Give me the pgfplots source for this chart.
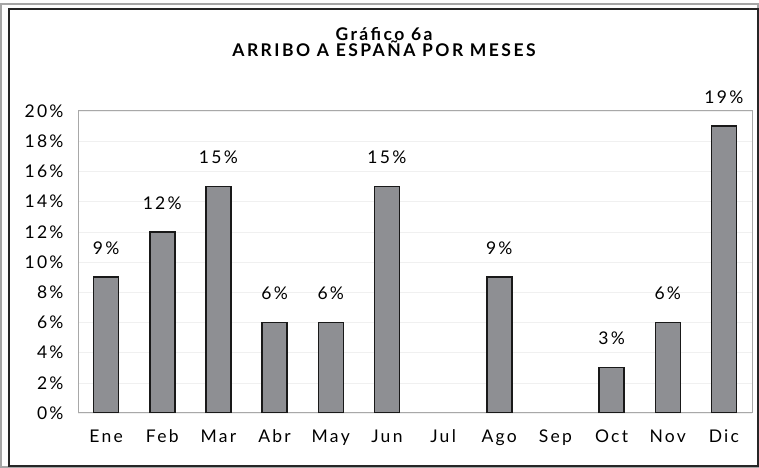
\documentclass[border=0pt]{standalone}
\usepackage{fontspec}
\setmainfont{Lato}
\usepackage{pgfplots}
\pgfplotsset{compat=1.18}
\definecolor{barfill}{HTML}{8E8F93}
\definecolor{axisgray}{HTML}{A8A8A8}
\newcommand{\lblfont}{\fontsize{17.5bp}{19bp}\selectfont\addfontfeatures{LetterSpace=13}}
\begin{document}
\begin{tikzpicture}[x=1bp,y=1bp]
\path[use as bounding box] (0,0) rectangle (759,468);
\draw[gray!70, line width=1.2bp] (1,1) rectangle (758,464);
\draw[black!85, line width=1.2bp] (9,2) rectangle (758,459);
\node[font=\bfseries\fontsize{17.5bp}{17bp}\selectfont\addfontfeatures{LetterSpace=14}, anchor=base] at (384,427) {Gráfico 6a};
\node[font=\bfseries\fontsize{17.5bp}{17bp}\selectfont\addfontfeatures{LetterSpace=14}, anchor=base] at (384,411) {ARRIBO A ESPAÑA POR MESES};
\begin{axis}[
  at={(78bp,55bp)}, anchor=south west,
  scale only axis, width=674bp, height=302bp,
  xmin=-0.5, xmax=11.5, ymin=0, ymax=20,
  xtick={0,...,11},
  xticklabels={Ene,Feb,Mar,Abr,May,Jun,Jul,Ago,Sep,Oct,Nov,Dic},
  ytick={0,2,...,20},
  yticklabel={\pgfmathprintnumber{\tick}\%},
  /pgf/number format/assume math mode=true,
  major tick length=0pt,
  tick label style={font=\lblfont},
  xticklabel style={yshift=-13bp},
  yticklabel style={xshift=-11bp},
  axis line style={axisgray, line width=1bp},
  ymajorgrids, grid style={black!6, line width=0.5bp},
  ybar, bar width=25bp,
  nodes near coords={\pgfmathprintnumber{\pgfplotspointmeta}\%},
  nodes near coords style={/pgf/number format/assume math mode=true, font=\lblfont, anchor=center, yshift=29bp},
]
\addplot[fill=barfill, draw=black!90, line width=1.5bp] coordinates {
(0,9) (1,12) (2,15) (3,6) (4,6) (5,15) (7,9) (9,3) (10,6) (11,19)
};
\end{axis}
\end{tikzpicture}
\end{document}
